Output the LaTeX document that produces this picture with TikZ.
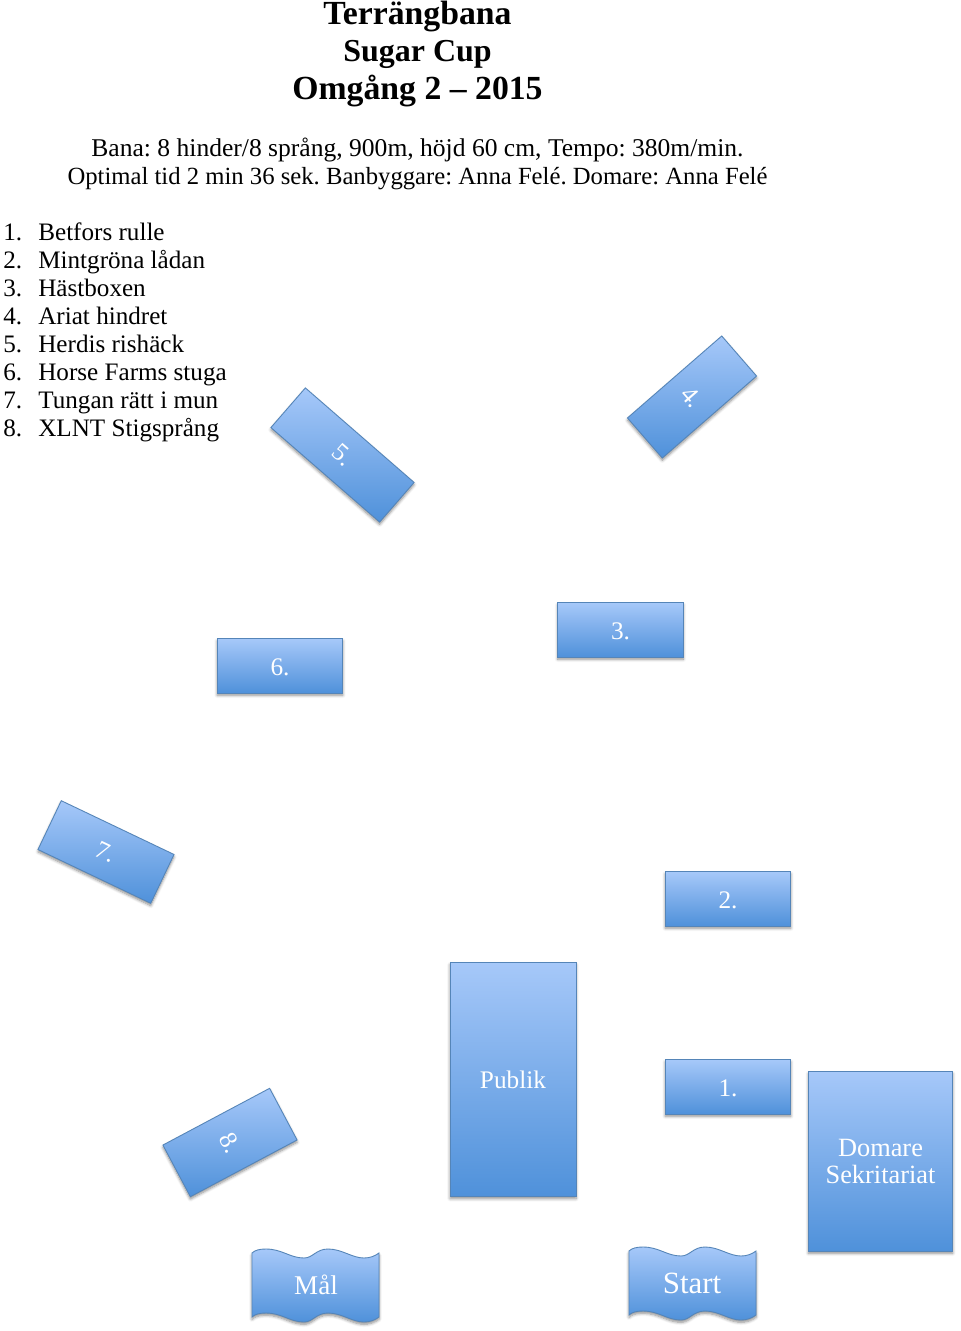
\documentclass[tikz,border=0pt]{standalone}
\usepackage{fontspec}
\setmainfont{Liberation Serif}
\usetikzlibrary{shadows.blur}
\definecolor{boxtop}{HTML}{A6C8F9}
\definecolor{boxbottom}{HTML}{4F91DA}
\definecolor{boxline}{HTML}{5585B8}
\frenchspacing
\tikzset{
  blockbody/.style={draw=boxline,line width=0.5pt,top color=boxtop,bottom color=boxbottom,
    blur shadow={shadow xshift=0pt,shadow yshift=-1.3pt,shadow blur radius=1.6pt,shadow blur steps=6,shadow opacity=45}},
  block/.style={blockbody,text=white,inner sep=0pt,align=center,font=\fontsize{14.4}{15.6}\selectfont},
  lowtext/.style={text height=11.4pt,text depth=0pt},
  bar/.style={block,lowtext,minimum width=71.6pt,minimum height=30.9pt},
  flagtext/.style={text=white,inner sep=0pt},
  listtext/.style={anchor=base west,inner sep=0pt,font=\fontsize{14.3}{15.9}\selectfont},
  infotext/.style={anchor=base,inner sep=0pt},
  titletext/.style={anchor=base,inner sep=0pt,font=\fontsize{19.2}{21.3}\selectfont\bfseries}
}
\begin{document}
\begin{tikzpicture}[x=0.02cm,y=-0.02cm]
\useasboundingbox (0,0) rectangle (960,1331);
% header
\node[titletext] (title1) at (417.5,24.5) {Terrängbana};
\node[titletext,font=\fontsize{18.2}{21.3}\selectfont\bfseries] (title2) at (417.5,62) {Sugar Cup};
\node[titletext] (title3) at (417.5,99.5) {Omgång 2 – 2015};
\node[infotext,font=\fontsize{14.55}{15.9}\selectfont] (info1) at (417.5,156.5) {Bana: 8 hinder/8 språng, 900m, höjd 60 cm, Tempo: 380m/min.};
\node[infotext,font=\fontsize{14.05}{15.9}\selectfont] (info2) at (417.5,184.5) {Optimal tid 2 min 36 sek. Banbyggare: Anna Felé. Domare: Anna Felé};
% list of jumps
\foreach \n/\jump [count=\i from 0] in {1/Betfors rulle,2/Mintgröna lådan,3/Hästboxen,4/Ariat hindret,5/Herdis rishäck,6/Horse Farms stuga,7/Tungan rätt i mun,8/XLNT Stigsprång} {
  \node[listtext] (num\n) at (3,240.5+28*\i) {\n.};
  \node[listtext] (jump\n) at (38,240.5+28*\i) {\jump};
}
% jumps on the course
\node[bar] (j1) at (728,1086.8) {1.};
\node[bar] (j2) at (728,898.8) {2.};
\node[bar] (j3) at (620.5,629.8) {3.};
\node[block,minimum width=30.2pt,minimum height=71.1pt,rotate=-49] (j4) at (692,397) {4.};
\node[block,minimum width=82pt,minimum height=29.9pt,rotate=-41] (j5) at (342.5,455) {5.};
\node[bar] (j6) at (280,665.8) {6.};
\node[block,minimum width=71.1pt,minimum height=30.8pt,rotate=-25.5] (j7) at (106,852) {7.};
\node[block,minimum width=33.3pt,minimum height=68.8pt,rotate=-62] (j8) at (230,1142.5) {8.};
% stands
\node[block,minimum width=71.7pt,minimum height=133.2pt] (publik) at (513,1079.4) {Publik};
\node[block,minimum width=82.2pt,minimum height=102.2pt,font=\fontsize{15}{15.6}\selectfont] (domare) at (880.5,1161.2) {Domare\\Sekritariat};
% goal and start flags
\foreach \dx/\dy/\flag/\lab/\tx/\ty/\fs in {0/0/mal/Mål/316/1285/15.4,377/-2/start/Start/692/1283/17.6} {
  \draw[blockbody,shift={(\dx,\dy)}] (252,1253) .. controls (255,1250) and (260,1249) .. (266,1249)
    .. controls (282,1249) and (290,1258) .. (304,1258) .. controls (313,1258) and (316,1249) .. (328,1249)
    .. controls (342,1249) and (352,1258) .. (364,1258) .. controls (370,1258) and (375,1256) .. (379,1253)
    -- (379,1317) .. controls (375,1320) and (370,1322) .. (364,1322) .. controls (352,1322) and (342,1313) .. (328,1313)
    .. controls (316,1313) and (313,1322) .. (304,1322) .. controls (290,1322) and (282,1313) .. (266,1313)
    .. controls (260,1313) and (255,1314) .. (252,1317) -- cycle;
  \node[flagtext,font=\fontsize{\fs}{19}\selectfont] (\flag) at (\tx,\ty) {\lab};
}
\end{tikzpicture}
\end{document}
